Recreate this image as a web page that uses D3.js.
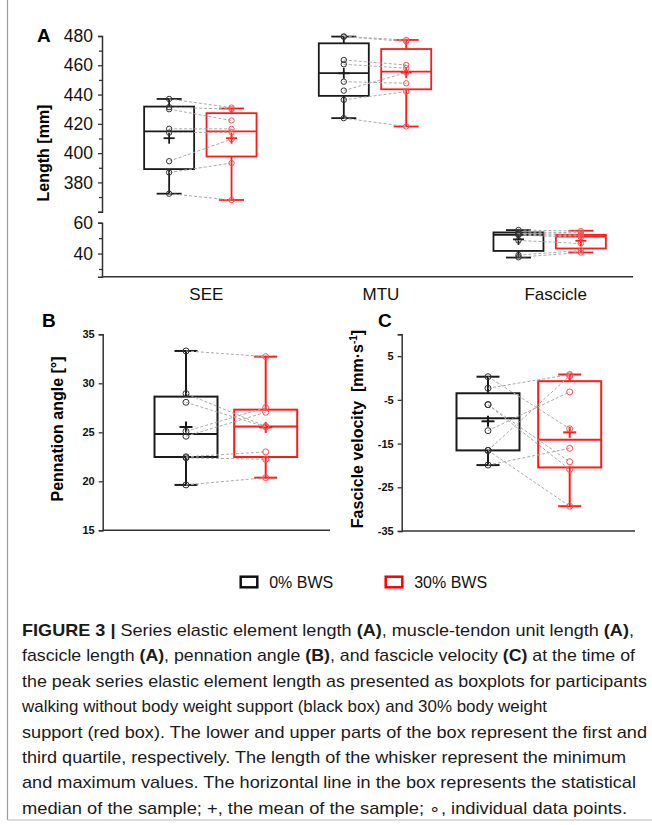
<!DOCTYPE html>
<html><head><meta charset="utf-8">
<script src="https://cdn.jsdelivr.net/npm/d3@7"></script>
<style>
html,body{margin:0;padding:0;background:#fff;}
svg{display:block;}
text{font-family:"Liberation Sans",Arial,sans-serif;}
</style></head>
<body>
<script>
// ---------- DATA ----------
const groups = ["0% BWS", "30% BWS"];
const categoriesA = ["SEE", "MTU", "Fascicle"];
// box stats: [min, q1, median, q3, max, mean]
const seeStats0 = [372.3, 389.1, 414.8, 431.8, 437.0, 410.2];
const seeStats30 = [368.0, 397.7, 414.8, 427.3, 430.5, 410.2];
const seePoints0 = [437.0, 431.4, 430.0, 416.6, 414.0, 394.5, 386.8, 372.3];
const seePoints30 = [431.1, 430.0, 422.3, 416.6, 414.3, 409.5, 393.2, 368.0];

const mtuStats0 = [423.9, 439.1, 454.6, 475.0, 479.6, 454.5];
const mtuStats30 = [418.2, 443.6, 455.7, 471.1, 477.3, 455.0];
const mtuPoints0 = [479.6, 479.6, 463.6, 460.7, 448.8, 442.7, 436.4, 423.9];
const mtuPoints30 = [477.3, 476.2, 460.2, 458.0, 447.7, 455.0, 442.0, 418.2];

const fasStats0 = [37.4, 41.7, 52.2, 53.7, 55.2, 49.2];
const fasStats30 = [40.7, 43.3, 51.0, 52.1, 54.8, 48.3];
const fasPoints0 = [55.3, 54.0, 53.0, 52.5, 52.0, 48.5, 39.0, 37.6];
const fasPoints30 = [54.5, 53.5, 52.5, 51.5, 50.5, 46.5, 42.0, 40.7];

const penStats0 = [19.63, 22.48, 24.83, 28.64, 33.3, 25.54];
const penStats30 = [20.37, 22.48, 25.58, 27.31, 32.72, 25.5];
const penPoints0 = [33.3, 28.95, 28.06, 25.1, 24.6, 22.5, 22.4, 19.63];
const penPoints30 = [32.72, 25.6, 25.56, 27.52, 27.04, 23.0, 22.24, 20.37];

const velStats0 = [-19.92, -16.56, -9.22, -3.49, 0.3, -9.9];
const velStats30 = [-29.33, -20.46, -14.11, -0.73, 0.8, -12.43];
const velPoints0 = [0.3, -2.34, -6.09, -6.09, -12.05, -16.56, -16.56, -19.92];
const velPoints30 = [-11.6, 0.8, -19.16, -20.92, -3.18, 0.5, -29.33, -16.1];

const ticksAUpper = [360, 370, 380, 390, 400, 410, 420, 430, 440, 450, 460, 470, 480];
const labelsAUpper = [380, 400, 420, 440, 460, 480];
const ticksALower = [30, 40, 50, 60];
const labelsALower = [40, 60];
const ticksB = [15, 20, 25, 30, 35];
const ticksC = [-35, -25, -15, -5, 5, 10];
const labelsC = [-35, -25, -15, -5, 5];

const captionLines = [
  [["FIGURE 3 |", true], [" Series elastic element length ", false], ["(A)", true], [", muscle-tendon unit length ", false], ["(A)", true], [",", false]],
  [["fascicle length ", false], ["(A)", true], [", pennation angle ", false], ["(B)", true], [", and fascicle velocity ", false], ["(C)", true], [" at the time of", false]],
  [["the peak series elastic element length as presented as boxplots for participants", false]],
  [["walking without body weight support (black box) and 30% body weight", false]],
  [["support (red box). The lower and upper parts of the box represent the first and", false]],
  [["third quartile, respectively. The length of the whisker represent the minimum", false]],
  [["and maximum values. The horizontal line in the box represents the statistical", false]],
  [["median of the sample; +, the mean of the sample; \u2218, individual data points.", false]]
];
const captionWidths = [612, 613, 625, 525, 625, 604, 614, 605];

// ---------- STYLE ----------
const colors = {"0% BWS": "#1a1a1a", "30% BWS": "#ff1a1a"};
const pointColors = {"0% BWS": "#333", "30% BWS": "#ff5050"};

const svg = d3.select("body").append("svg").attr("width", 652).attr("height", 825);

// frame
svg.append("line").attr("x1", 7.5).attr("x2", 7.5).attr("y1", 0).attr("y2", 820).attr("stroke", "#999").attr("stroke-width", 1.2);
svg.append("line").attr("x1", 7.5).attr("x2", 652).attr("y1", 820).attr("y2", 820).attr("stroke", "#bbb").attr("stroke-width", 1);

function drawBox(g, cx, stats, y, color, opt) {
  const [mn, q1, md, q3, mx, mean] = stats;
  const bw = opt.boxW, cw = opt.capW, sw = opt.sw;
  g.append("line").attr("x1", cx).attr("x2", cx).attr("y1", y(mx)).attr("y2", y(q3)).attr("stroke", color).attr("stroke-width", sw);
  g.append("line").attr("x1", cx).attr("x2", cx).attr("y1", y(q1)).attr("y2", y(mn)).attr("stroke", color).attr("stroke-width", sw);
  g.append("line").attr("x1", cx - cw / 2).attr("x2", cx + cw / 2).attr("y1", y(mx)).attr("y2", y(mx)).attr("stroke", color).attr("stroke-width", sw);
  g.append("line").attr("x1", cx - cw / 2).attr("x2", cx + cw / 2).attr("y1", y(mn)).attr("y2", y(mn)).attr("stroke", color).attr("stroke-width", sw);
  g.append("rect").attr("x", cx - bw / 2).attr("y", y(q3)).attr("width", bw).attr("height", y(q1) - y(q3))
    .attr("fill", "none").attr("stroke", color).attr("stroke-width", sw);
  g.append("line").attr("x1", cx - bw / 2).attr("x2", cx + bw / 2).attr("y1", y(md)).attr("y2", y(md)).attr("stroke", color).attr("stroke-width", sw);
  // mean +
  g.append("line").attr("x1", cx - opt.plusW).attr("x2", cx + opt.plusW).attr("y1", y(mean)).attr("y2", y(mean)).attr("stroke", color).attr("stroke-width", sw);
  g.append("line").attr("x1", cx).attr("x2", cx).attr("y1", y(mean) - opt.plusH).attr("y2", y(mean) + opt.plusH).attr("stroke", color).attr("stroke-width", sw);
}

function drawPairs(g, x0, x1, p0, p1, y, r) {
  p0.forEach((v, i) => {
    g.append("line").attr("x1", x0).attr("x2", x1).attr("y1", y(v)).attr("y2", y(p1[i]))
      .attr("stroke", "#aaa").attr("stroke-width", 1).attr("stroke-dasharray", "3,2");
  });
  [[x0, p0, groups[0]], [x1, p1, groups[1]]].forEach(([x, pts, gname]) => {
    g.selectAll(null).data(pts).enter().append("circle")
      .attr("cx", x).attr("cy", d => y(d)).attr("r", r)
      .attr("fill", "none").attr("stroke", pointColors[gname]).attr("stroke-width", 1);
  });
}

function styleAxis(sel, fontSize, bold) {
  sel.selectAll("path").attr("stroke", "#333").attr("stroke-width", 1.5);
  sel.selectAll("line").attr("stroke", "#333").attr("stroke-width", 1.3);
  sel.selectAll("text").attr("font-size", fontSize).attr("font-weight", bold ? "bold" : "normal")
    .attr("fill", "#111").style("font-family", "'Liberation Sans', Arial, sans-serif");
}

// ---------- PANEL A ----------
const xA = d3.scalePoint().domain(categoriesA).range([113, 637]).padding(0.5);
const gOffA = d3.scalePoint().domain(groups).range([-31.2, 31.2]);
const yAU = d3.scaleLinear().domain([360, 480]).range([211.7, 36]);
const yAL = d3.scaleLinear().domain([25, 60]).range([276.7, 222.7]);
const axA = 102;

const gAU = svg.append("g").attr("transform", `translate(${axA},0)`)
  .call(d3.axisLeft(yAU).tickValues(ticksAUpper).tickSizeOuter(0).tickSize(4).tickPadding(5)
    .tickFormat(d => labelsAUpper.includes(d) ? d : ""));
styleAxis(gAU, 17.5, false);
gAU.selectAll(".tick").filter(d => !labelsAUpper.includes(d)).select("line").attr("x2", -3);

const gAL = svg.append("g").attr("transform", `translate(${axA},0)`)
  .call(d3.axisLeft(yAL).tickValues(ticksALower).tickSizeOuter(0).tickSize(4).tickPadding(5)
    .tickFormat(d => labelsALower.includes(d) ? d : ""));
styleAxis(gAL, 17.5, false);
gAL.selectAll(".tick").filter(d => !labelsALower.includes(d)).select("line").attr("x2", -3);

svg.append("line").attr("x1", axA).attr("x2", 633).attr("y1", yAL.range()[0]).attr("y2", yAL.range()[0])
  .attr("stroke", "#333").attr("stroke-width", 1.5);

svg.selectAll(null).data(categoriesA).enter().append("text")
  .attr("x", d => xA(d) + 6).attr("y", 300).attr("text-anchor", "middle")
  .attr("font-size", 17).attr("fill", "#111").text(d => d);

svg.append("text").attr("x", 37).attr("y", 42).attr("font-size", 19).attr("font-weight", "bold").text("A");
svg.append("text").attr("transform", "translate(48.5,153) rotate(-90)").attr("text-anchor", "middle")
  .attr("font-size", 16).attr("font-weight", "bold").text("Length [mm]");

const optA = {boxW: 50, capW: 25, sw: 1.8, plusW: 5.5, plusH: 5.5};
const gA = svg.append("g");
const panelAData = [
  ["SEE", seeStats0, seeStats30, seePoints0, seePoints30, yAU],
  ["MTU", mtuStats0, mtuStats30, mtuPoints0, mtuPoints30, yAU],
  ["Fascicle", fasStats0, fasStats30, fasPoints0, fasPoints30, yAL]
];
panelAData.forEach(([cat, s0, s1, p0, p1, y]) => {
  const x0 = xA(cat) + gOffA(groups[0]), x1 = xA(cat) + gOffA(groups[1]);
  drawBox(gA, x0, s0, y, colors[groups[0]], optA);
  drawBox(gA, x1, s1, y, colors[groups[1]], optA);
  drawPairs(gA, x0, x1, p0, p1, y, 2.7);
});

// ---------- PANEL B ----------
const xB = d3.scalePoint().domain(groups).range([186, 265.7]);
const yB = d3.scaleLinear().domain([15, 35]).range([530.3, 334.3]);
const axB = 102.7;
const gBax = svg.append("g").attr("transform", `translate(${axB},0)`)
  .call(d3.axisLeft(yB).tickValues(ticksB).tickSizeOuter(0).tickSize(4).tickPadding(4));
styleAxis(gBax, 11, true);
svg.append("line").attr("x1", axB).attr("x2", 330).attr("y1", yB(15)).attr("y2", yB(15)).attr("stroke", "#333").attr("stroke-width", 1.5);
svg.append("text").attr("x", 42).attr("y", 327).attr("font-size", 19).attr("font-weight", "bold").text("B");
svg.append("text").attr("transform", "translate(62.5,429) rotate(-90)").attr("text-anchor", "middle")
  .attr("font-size", 16).attr("font-weight", "bold").text("Pennation angle [°]");
const optBC = {boxW: 63, capW: 23, sw: 2, plusW: 6.5, plusH: 5.5};
const gB = svg.append("g");
drawBox(gB, xB(groups[0]), penStats0, yB, colors[groups[0]], optBC);
drawBox(gB, xB(groups[1]), penStats30, yB, colors[groups[1]], optBC);
drawPairs(gB, xB(groups[0]), xB(groups[1]), penPoints0, penPoints30, yB, 3);

// ---------- PANEL C ----------
const xC = d3.scalePoint().domain(groups).range([488, 569.7]);
const yC = d3.scaleLinear().domain([-35, 10]).range([531, 334.3]);
const axC = 401.7;
const gCax = svg.append("g").attr("transform", `translate(${axC},0)`)
  .call(d3.axisLeft(yC).tickValues(ticksC).tickSizeOuter(0).tickSize(4).tickPadding(4)
    .tickFormat(d => labelsC.includes(d) ? d : ""));
styleAxis(gCax, 11, true);
svg.append("line").attr("x1", axC).attr("x2", 635).attr("y1", yC(-35)).attr("y2", yC(-35)).attr("stroke", "#333").attr("stroke-width", 1.5);
svg.append("text").attr("x", 378).attr("y", 327).attr("font-size", 19).attr("font-weight", "bold").text("C");
const cLab = svg.append("text").attr("transform", "translate(362.5,429) rotate(-90)").attr("text-anchor", "middle")
  .attr("font-size", 16).attr("font-weight", "bold").style("white-space", "pre");
cLab.append("tspan").text("Fascicle velocity  [mm\u00b7s");
cLab.append("tspan").attr("font-size", 10).attr("dy", -6).text("-1");
cLab.append("tspan").attr("dy", 6).text("]");
const gC = svg.append("g");
drawBox(gC, xC(groups[0]), velStats0, yC, colors[groups[0]], optBC);
drawBox(gC, xC(groups[1]), velStats30, yC, colors[groups[1]], optBC);
drawPairs(gC, xC(groups[0]), xC(groups[1]), velPoints0, velPoints30, yC, 3);

// ---------- LEGEND ----------
const legX = d3.scalePoint().domain(groups).range([240.7, 385.7]);
const leg = svg.append("g");
groups.forEach(gname => {
  leg.append("rect").attr("x", legX(gname)).attr("y", 576.7).attr("width", 16.6).attr("height", 10.6)
    .attr("fill", "none").attr("stroke", gname === groups[0] ? "#111" : "#ff0000").attr("stroke-width", 2.5);
  leg.append("text").attr("x", legX(gname) + 28.5).attr("y", 587.5).attr("font-size", 16).attr("fill", "#111").text(gname);
});

// ---------- CAPTION ----------
const cap = svg.append("g");
captionLines.forEach((parts, i) => {
  const t = cap.append("text").attr("x", 22).attr("y", 636 + i * 25.4)
    .attr("font-size", 17).attr("fill", "#1a1a1a")
    .style("font-family", "'Liberation Sans Narrow','Liberation Sans',Arial,sans-serif")
    .style("white-space", "pre")
    .attr("textLength", captionWidths[i]).attr("lengthAdjust", "spacingAndGlyphs");
  parts.forEach(([s, b]) => t.append("tspan").attr("font-weight", b ? "bold" : "normal").text(s));
});
</script>
</body></html>
